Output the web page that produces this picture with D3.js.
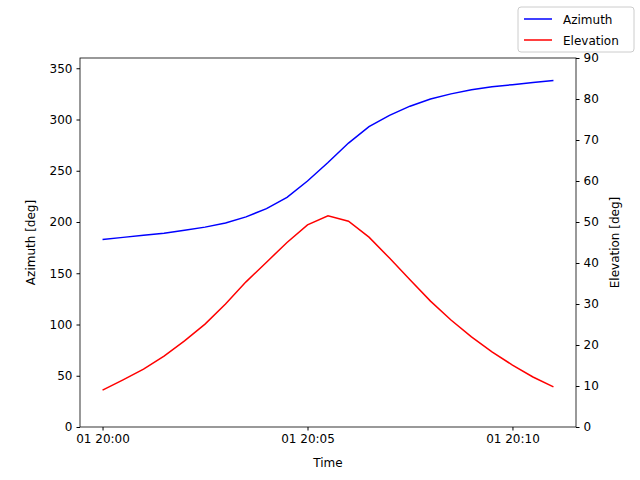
<!DOCTYPE html>
<html><head><meta charset="utf-8">
<script src="https://cdn.jsdelivr.net/npm/d3@7"></script>
<style>body{margin:0;background:#fff}text{font-family:"DejaVu Sans",sans-serif}</style>
</head><body><svg id="c" width="640" height="480"></svg>
<script>
const minutes = d3.range(0, 11.01, 0.5);
const azimuth = [183,185,187,189,192,195,199,205,213,224,240,258,277,293,304,313,320,325,329,332,334,336,338];
const elevation = [9,11.5,14.1,17.3,21,25.1,30,35.4,40.2,45,49.3,51.5,50.2,46.3,41.2,35.9,30.7,26.1,22,18.3,15.1,12.2,9.8];
const xTicks = [0,5,10], xTickLabels = ["01 20:00","01 20:05","01 20:10"];
const svg = d3.select("#c");
const L=80,R=576,T=58,B=427;
const x = d3.scaleLinear().domain([-0.55,11.55]).range([L,R]);
const yA = d3.scaleLinear().domain([0,360]).range([B,T]);
const yE = d3.scaleLinear().domain([0,90]).range([B,T]);
const fs="12px";
svg.append("g").attr("transform",`translate(0,${B})`).call(d3.axisBottom(x).tickValues(xTicks).tickFormat((d,i)=>xTickLabels[i]).tickSizeOuter(0).tickSize(3.5).tickPadding(4)).style("font-size",fs);
svg.append("g").attr("transform",`translate(${L},0)`).call(d3.axisLeft(yA).tickValues(d3.range(0,351,50)).tickSizeOuter(0).tickSize(3.5).tickPadding(4)).style("font-size",fs);
svg.append("g").attr("transform",`translate(${R},0)`).call(d3.axisRight(yE).tickValues(d3.range(0,91,10)).tickSizeOuter(0).tickSize(3.5).tickPadding(4)).style("font-size",fs);
svg.selectAll(".domain").remove();
svg.selectAll(".tick text").attr("fill","#000");
svg.append("rect").attr("x",L).attr("y",T).attr("width",R-L).attr("height",B-T).attr("fill","none").attr("stroke","#000").attr("stroke-width",0.8);
svg.append("path").datum(azimuth).attr("fill","none").attr("stroke","blue").attr("stroke-width",1.5)
 .attr("d",d3.line().x((d,i)=>x(minutes[i])).y(d=>yA(d)));
svg.append("path").datum(elevation).attr("fill","none").attr("stroke","red").attr("stroke-width",1.5)
 .attr("d",d3.line().x((d,i)=>x(minutes[i])).y(d=>yE(d)));
svg.append("text").attr("x",(L+R)/2).attr("y",467).attr("text-anchor","middle").style("font-size",fs).text("Time");
svg.append("text").attr("transform",`translate(35,${(T+B)/2}) rotate(-90)`).attr("text-anchor","middle").style("font-size",fs).text("Azimuth [deg]");
svg.append("text").attr("transform",`translate(619,${(T+B)/2}) rotate(-90)`).attr("text-anchor","middle").style("font-size",fs).text("Elevation [deg]");
const lg=svg.append("g");
lg.append("rect").attr("x",518).attr("y",7).attr("width",116).attr("height",45).attr("rx",3).attr("fill","#fff").attr("stroke","#ccc");
[["Azimuth","blue",19],["Elevation","red",40]].forEach(([t,c,y])=>{
 lg.append("line").attr("x1",524).attr("x2",552).attr("y1",y).attr("y2",y).attr("stroke",c).attr("stroke-width",1.5);
 lg.append("text").attr("x",563).attr("y",y+4.5).style("font-size",fs).text(t);
});
</script></body></html>
